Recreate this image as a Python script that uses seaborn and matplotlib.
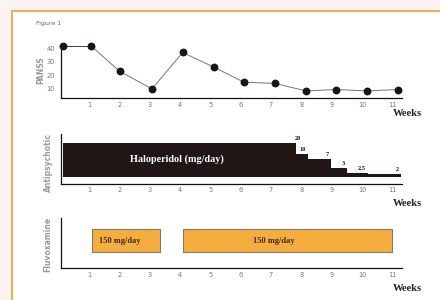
import numpy as np
import pandas as pd
import matplotlib
matplotlib.use("Agg")
import matplotlib.pyplot as plt
from matplotlib.patches import Rectangle
from matplotlib.lines import Line2D
import seaborn as sns

# symptom score per week
score_weeks = [0.14, 1.05, 2.0, 3.07, 4.08, 5.12, 6.1, 7.13, 8.15, 9.14, 10.17, 11.2]
score_values = [42, 42, 23, 10, 37, 26, 15, 14, 8.5, 9.5, 8.5, 9.5]

# haloperidol steps: start/end week, dose label and drawn level
halo_start = [0.14, 7.82, 8.23, 8.98, 9.5, 10.19]
halo_end = [7.82, 8.23, 8.98, 9.5, 10.19, 11.29]
halo_dose = ["20", "10", "7", "3", "2.5", "2"]
halo_level = [34.6, 23, 18.3, 9, 4.6, 3.3]

# second drug periods
drug_start = [1.08, 4.1]
drug_end = [3.33, 11.0]
drug_label = ["150 mg/day", "150 mg/day"]

week_ticks = list(range(1, 12))

W, H = 440, 300
sns.set_theme(style="white")
plt.rcParams["font.family"] = ["DejaVu Sans"]
fig = plt.figure(figsize=(W / 100, H / 100), dpi=100, facecolor="#fdf4f2")


def box(left, top, right, bottom):
    return [left / W, 1 - bottom / H, (right - left) / W, (bottom - top) / H]


# white panel with orange border
fig.add_artist(Rectangle((12 / W, 0), 1, 1 - 11 / H, transform=fig.transFigure,
                         facecolor="white", edgecolor="none", zorder=-5))
fig.add_artist(Line2D([11.5 / W, 1], [1 - 11 / H, 1 - 11 / H], color="#f7a440", lw=1.3))
fig.add_artist(Line2D([11.5 / W, 11.5 / W], [0, 1 - 11 / H], color="#f7a440", lw=1.3))
fig.text(36 / W, 1 - 24 / H, "Figure 1", fontsize=4.5, color="#666666", va="center")

serif = ["Liberation Serif", "DejaVu Serif"]
xlim = (0.076, 11.31)


def style_axis(ax):
    ax.set_facecolor("none")
    sns.despine(ax=ax)
    for s in ("left", "bottom"):
        ax.spines[s].set_color("#111111")
        ax.spines[s].set_linewidth(0.9)
    ax.set_xlim(*xlim)
    ax.set_xticks(week_ticks)
    ax.set_xticklabels([str(w) for w in week_ticks])
    ax.tick_params(axis="both", length=0, labelsize=4.8, colors="#777777", pad=2.5)
    ax.tick_params(axis="y", pad=4.5)
    ax.set_xlabel("")
    ax.set_ylabel("")


# top: score line
ax1 = fig.add_axes(box(61.3, 45.7, 401.7, 98.3))
df = pd.DataFrame({"week": score_weeks, "score": score_values})
sns.lineplot(data=df, x="week", y="score", ax=ax1, color="#777777", lw=0.7)
ax1.plot(score_weeks[:2], score_values[:2], color="#111111", lw=1.1)
sns.scatterplot(data=df, x="week", y="score", ax=ax1, color="#1a1414", s=32,
                edgecolor="#1a1414", linewidth=0, zorder=5, clip_on=False)
ax1.set_ylim(3, 42)
ax1.set_yticks([10, 20, 30, 40])
style_axis(ax1)
for c in ax1.collections:
    c.set_clip_on(False)

# middle: haloperidol dose steps
ax2 = fig.add_axes(box(61.3, 134, 401.7, 184))
widths = np.array(halo_end) - np.array(halo_start)
ax2.bar(halo_start, halo_level, width=widths, align="edge", color="#211616",
        edgecolor="none")
ax2.set_ylim(-6.7, 43.3)
ax2.set_yticks([])
style_axis(ax2)
for i, (d, lv, e) in enumerate(zip(halo_dose, halo_level, halo_end)):
    x = e + 0.16 if i == 0 else e - 0.07
    ax2.text(x, lv + 4.4, d, ha="right", va="center", fontsize=4.6,
             fontweight="bold", family=serif, color="#211616")
ax2.text(3.9, 18.3, "Haloperidol (mg/day)", ha="center", va="center",
         fontsize=7.3, fontweight="bold", family=serif, color="white")

# bottom: second drug periods
ax3 = fig.add_axes(box(61.3, 218.3, 401.7, 268.3))
dwidth = np.array(drug_end) - np.array(drug_start)
ax3.bar(drug_start, 23, bottom=16, width=dwidth, align="edge", color="#f5ad3b",
        edgecolor="#7a7a7a", linewidth=0.8)
ax3.set_ylim(0, 50)
ax3.set_yticks([])
style_axis(ax3)
for s, e, lab in zip(drug_start, drug_end, drug_label):
    cx = s + 0.92 if e - s < 3 else (s + e) / 2 - 0.45
    ax3.text(cx, 27.5, lab, ha="center", va="center", fontsize=6,
             fontweight="bold", family=serif, color="#3a2a1a")

# week labels
for y in (113, 203.3, 288.3):
    fig.text(422 / W, 1 - y / H, "Weeks", ha="right", va="center", fontsize=7.6,
             fontweight="bold", family=serif, color="#222222")

# rotated y labels (faint in the original)
fig.text(41 / W, 1 - 70 / H, "PANSS", rotation=90, ha="center", va="center",
         fontsize=5.5, fontweight="bold", color="#9a9a9a")
fig.text(48 / W, 1 - 162 / H, "Antipsychotic", rotation=90, ha="center",
         va="center", fontsize=5.5, fontweight="bold", color="#9a9a9a")
fig.text(48 / W, 1 - 244 / H, "Fluvoxamine", rotation=90, ha="center",
         va="center", fontsize=5.5, fontweight="bold", color="#9a9a9a")

fig.savefig("out.png", dpi=100, facecolor=fig.get_facecolor())
